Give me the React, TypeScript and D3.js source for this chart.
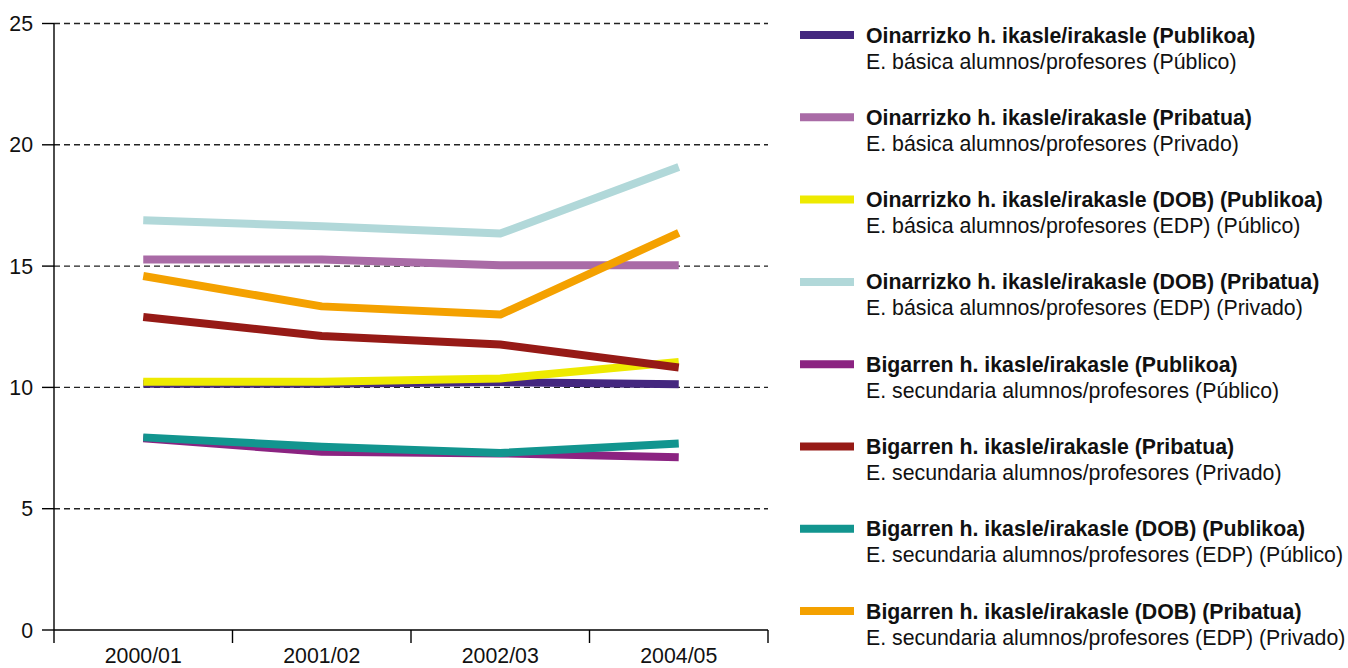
import React from "react";
import * as d3 from "d3";

const categories = ["2000/01", "2001/02", "2002/03", "2004/05"];
const yTicks = [0, 5, 10, 15, 20, 25];

const seriesNamesEu = [
  "Oinarrizko h. ikasle/irakasle (Publikoa)",
  "Oinarrizko h. ikasle/irakasle (Pribatua)",
  "Oinarrizko h. ikasle/irakasle (DOB) (Publikoa)",
  "Oinarrizko h. ikasle/irakasle (DOB) (Pribatua)",
  "Bigarren h. ikasle/irakasle (Publikoa)",
  "Bigarren h. ikasle/irakasle (Pribatua)",
  "Bigarren h. ikasle/irakasle (DOB) (Publikoa)",
  "Bigarren h. ikasle/irakasle (DOB) (Pribatua)",
];
const seriesNamesEs = [
  "E. básica alumnos/profesores (Público)",
  "E. básica alumnos/profesores (Privado)",
  "E. básica alumnos/profesores (EDP) (Público)",
  "E. básica alumnos/profesores (EDP) (Privado)",
  "E. secundaria alumnos/profesores (Público)",
  "E. secundaria alumnos/profesores (Privado)",
  "E. secundaria alumnos/profesores (EDP) (Público)",
  "E. secundaria alumnos/profesores (EDP) (Privado)",
];
const colors = ["#44277f", "#a96ba6", "#eeea00", "#b1d8d9", "#8b2381", "#961a16", "#12958f", "#f4a100"];

const basicaPublico = [10.15, 10.15, 10.22, 10.13];
const basicaPrivado = [15.27, 15.27, 15.03, 15.03];
const basicaEdpPublico = [10.23, 10.23, 10.37, 11.05];
const basicaEdpPrivado = [16.89, 16.64, 16.34, 19.08];
const secundariaPublico = [7.9, 7.35, 7.28, 7.12];
const secundariaPrivado = [12.9, 12.12, 11.77, 10.82];
const secundariaEdpPublico = [7.94, 7.55, 7.3, 7.69];
const secundariaEdpPrivado = [14.59, 13.34, 13.0, 16.37];

const seriesValues = [
  basicaPublico,
  basicaPrivado,
  basicaEdpPublico,
  basicaEdpPrivado,
  secundariaPublico,
  secundariaPrivado,
  secundariaEdpPublico,
  secundariaEdpPrivado,
];

export default function App() {
  const W = 1348;
  const H = 668;
  const x0 = 54;
  const x1 = 768;
  const yTop = 23.5;
  const yBot = 630;
  const x = d3.scaleBand<string>().domain(categories).range([x0, x1]).padding(0);
  const y = d3.scaleLinear().domain([0, 25]).range([yBot, yTop]);
  const cx = (c: string) => (x(c) as number) + x.bandwidth() / 2;
  const line = d3
    .line<number>()
    .x((_, i) => cx(categories[i]))
    .y((v) => y(v));
  const font = "'Liberation Sans', Arial, sans-serif";
  const edges = [...categories.map((c) => x(c) as number), x1];
  const legendY0 = 35;
  const legendStep = 82.3;
  const fs = 21.3;

  return (
    <svg
      width={W}
      height={H}
      style={{ position: "absolute", left: 0, top: 0, background: "#fff" }}
      fontFamily={font}
    >
      {yTicks.slice(1).map((t) => (
        <line
          key={"g" + t}
          x1={x0}
          x2={x1}
          y1={y(t)}
          y2={y(t)}
          stroke="#222"
          strokeWidth={1.4}
          strokeDasharray="6,4"
        />
      ))}
      <line x1={x0} x2={x0} y1={yTop} y2={yBot} stroke="#000" strokeWidth={1.4} />
      <line x1={x0} x2={x1} y1={yBot} y2={yBot} stroke="#000" strokeWidth={1.4} />
      {yTicks.map((t) => (
        <g key={"yt" + t}>
          <line x1={x0 - 12} x2={x0} y1={y(t)} y2={y(t)} stroke="#000" strokeWidth={1.4} />
          <text x={33} y={y(t) + 7.5} textAnchor="end" fontSize={fs} fill="#111">
            {t}
          </text>
        </g>
      ))}
      {edges.map((e, i) => (
        <line key={"xt" + i} x1={e} x2={e} y1={yBot} y2={yBot + 13} stroke="#000" strokeWidth={1.4} />
      ))}
      {categories.map((c) => (
        <text key={"xl" + c} x={cx(c)} y={663} textAnchor="middle" fontSize={fs} fill="#111">
          {c}
        </text>
      ))}
      {seriesValues.map((vals, i) => (
        <path
          key={"s" + i}
          d={line(vals) || ""}
          fill="none"
          stroke={colors[i]}
          strokeWidth={8}
          strokeLinejoin="round"
          strokeLinecap="butt"
        />
      ))}
      {seriesNamesEu.map((n, i) => {
        const ly = legendY0 + i * legendStep;
        return (
          <g key={"lg" + i}>
            <line x1={800} x2={854} y1={ly} y2={ly} stroke={colors[i]} strokeWidth={8} />
            <text x={866} y={ly + 7.5} fontSize={fs} fontWeight="bold" fill="#111">
              {n}
            </text>
            <text x={866} y={ly + 33.5} fontSize={fs} fill="#111">
              {seriesNamesEs[i]}
            </text>
          </g>
        );
      })}
    </svg>
  );
}
